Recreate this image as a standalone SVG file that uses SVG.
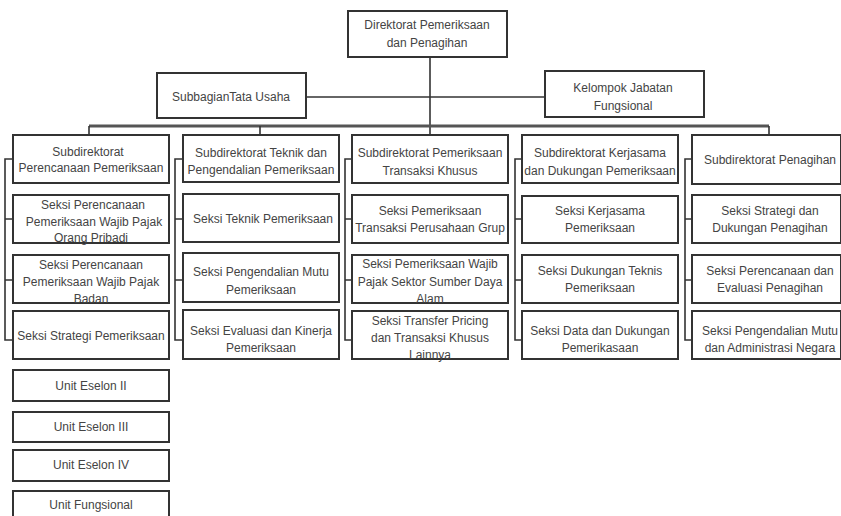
<svg xmlns="http://www.w3.org/2000/svg" width="841" height="516" viewBox="0 0 841 516">
<style>
.box{fill:#fff;stroke:#333;stroke-width:2}
.t{font-family:"Liberation Sans",Arial,sans-serif;font-size:12px;fill:#444;text-anchor:middle}
.ln{fill:none;stroke:#333;stroke-width:1.6}
.bus{fill:none;stroke:#555;stroke-width:3}
</style>
<rect width="841" height="516" fill="#fff"/>
<g id="connectors">
<line class="ln" x1="430" y1="57" x2="430" y2="135"/>
<line class="ln" x1="306" y1="97" x2="545" y2="97"/>
<line class="bus" x1="89" y1="126" x2="769" y2="126"/>
<line class="ln" x1="89" y1="126" x2="89" y2="135"/>
<line class="ln" x1="260" y1="126" x2="260" y2="135"/>
<line class="ln" x1="769" y1="126" x2="769" y2="135"/>
<path class="ln" d="M13 159H5V340H13M5 219H13M5 280H13"/>
<path class="ln" d="M183 159H175V340H183M175 219H183M175 280H183"/>
<path class="ln" d="M352 159H345V340H352M345 219H352M345 280H352"/>
<path class="ln" d="M522 159H515V340H522M515 219H522M515 280H522"/>
<path class="ln" d="M692 159H685V340H692M685 219H692M685 280H692"/>
</g>
<g id="direktorat"><rect class="box" x="348" y="11" width="159" height="46"/><text class="t" x="427" y="29">Direktorat Pemeriksaan</text><text class="t" x="427" y="47">dan Penagihan</text></g>
<g id="subbagian"><rect class="box" x="157" y="73" width="149" height="45"/><text class="t" x="231" y="101">SubbagianTata Usaha</text></g>
<g id="kelompok"><rect class="box" x="545" y="71" width="159" height="46"/><text class="t" x="623" y="92">Kelompok Jabatan</text><text class="t" x="623" y="110">Fungsional</text></g>

<g id="c1b1"><rect class="box" x="13" y="135" width="156" height="48"/><text class="t" x="88" y="156">Subdirektorat</text><text class="t" x="91" y="172">Perencanaan Pemeriksaan</text></g>
<g id="c1b2"><rect class="box" x="13" y="195" width="156" height="48"/><text class="t" x="93" y="209">Seksi Perencanaan</text><text class="t" x="94" y="226">Pemeriksaan Wajib Pajak</text><text class="t" x="91" y="242">Orang Pribadi</text></g>
<g id="c1b3"><rect class="box" x="13" y="255" width="156" height="48"/><text class="t" x="91" y="269">Seksi Perencanaan</text><text class="t" x="91" y="286">Pemeriksaan Wajib Pajak</text><text class="t" x="91" y="303">Badan</text></g>
<g id="c1b4"><rect class="box" x="13" y="311" width="156" height="48"/><text class="t" x="91" y="340">Seksi Strategi Pemeriksaan</text></g>

<g id="c2b1"><rect class="box" x="183" y="135" width="156" height="47"/><text class="t" x="261" y="157">Subdirektorat Teknik dan</text><text class="t" x="261" y="174">Pengendalian Pemeriksaan</text></g>
<g id="c2b2"><rect class="box" x="183" y="194" width="156" height="48"/><text class="t" x="263" y="223">Seksi Teknik Pemeriksaan</text></g>
<g id="c2b3"><rect class="box" x="183" y="253" width="156" height="49"/><text class="t" x="261" y="276">Seksi Pengendalian Mutu</text><text class="t" x="261" y="294">Pemeriksaan</text></g>
<g id="c2b4"><rect class="box" x="183" y="310" width="156" height="49"/><text class="t" x="261" y="335">Seksi Evaluasi dan Kinerja</text><text class="t" x="261" y="352">Pemeriksaan</text></g>

<g id="c3b1"><rect class="box" x="352" y="135" width="156" height="48"/><text class="t" x="430" y="157">Subdirektorat Pemeriksaan</text><text class="t" x="430" y="175">Transaksi Khusus</text></g>
<g id="c3b2"><rect class="box" x="352" y="195" width="156" height="48"/><text class="t" x="430" y="215">Seksi Pemeriksaan</text><text class="t" x="430" y="232">Transaksi Perusahaan Grup</text></g>
<g id="c3b3"><rect class="box" x="352" y="255" width="156" height="48"/><text class="t" x="430" y="268">Seksi Pemeriksaan Wajib</text><text class="t" x="430" y="286">Pajak Sektor Sumber Daya</text><text class="t" x="430" y="303">Alam</text></g>
<g id="c3b4"><rect class="box" x="352" y="311" width="156" height="48"/><text class="t" x="430" y="325">Seksi Transfer Pricing</text><text class="t" x="430" y="342">dan Transaksi Khusus</text><text class="t" x="430" y="359">Lainnya</text></g>

<g id="c4b1"><rect class="box" x="522" y="135" width="156" height="48"/><text class="t" x="600" y="157">Subdirektorat Kerjasama</text><text class="t" x="600" y="175">dan Dukungan Pemeriksaan</text></g>
<g id="c4b2"><rect class="box" x="522" y="196" width="156" height="47"/><text class="t" x="600" y="215">Seksi Kerjasama</text><text class="t" x="600" y="232">Pemeriksaan</text></g>
<g id="c4b3"><rect class="box" x="522" y="255" width="156" height="48"/><text class="t" x="600" y="275">Seksi Dukungan Teknis</text><text class="t" x="600" y="292">Pemeriksaan</text></g>
<g id="c4b4"><rect class="box" x="522" y="311" width="156" height="48"/><text class="t" x="600" y="335">Seksi Data dan Dukungan</text><text class="t" x="600" y="352">Pemerikasaan</text></g>

<g id="c5b1"><rect class="box" x="692" y="135" width="149" height="49"/><text class="t" x="770" y="164">Subdirektorat Penagihan</text></g>
<g id="c5b2"><rect class="box" x="692" y="195" width="149" height="48"/><text class="t" x="770" y="215">Seksi Strategi dan</text><text class="t" x="770" y="232">Dukungan Penagihan</text></g>
<g id="c5b3"><rect class="box" x="692" y="255" width="149" height="48"/><text class="t" x="770" y="275">Seksi Perencanaan dan</text><text class="t" x="770" y="292">Evaluasi Penagihan</text></g>
<g id="c5b4"><rect class="box" x="692" y="311" width="149" height="48"/><text class="t" x="770" y="335">Seksi Pengendalian Mutu</text><text class="t" x="770" y="352">dan Administrasi Negara</text></g>

<g id="legend1"><rect class="box" x="13" y="370" width="156" height="31"/><text class="t" x="91" y="390">Unit Eselon II</text></g>
<g id="legend2"><rect class="box" x="13" y="412" width="156" height="30"/><text class="t" x="91" y="431">Unit Eselon III</text></g>
<g id="legend3"><rect class="box" x="13" y="450" width="156" height="31"/><text class="t" x="91" y="469">Unit Eselon IV</text></g>
<g id="legend4"><rect class="box" x="13" y="491" width="156" height="32"/><text class="t" x="91" y="509">Unit Fungsional</text></g>
</svg>
